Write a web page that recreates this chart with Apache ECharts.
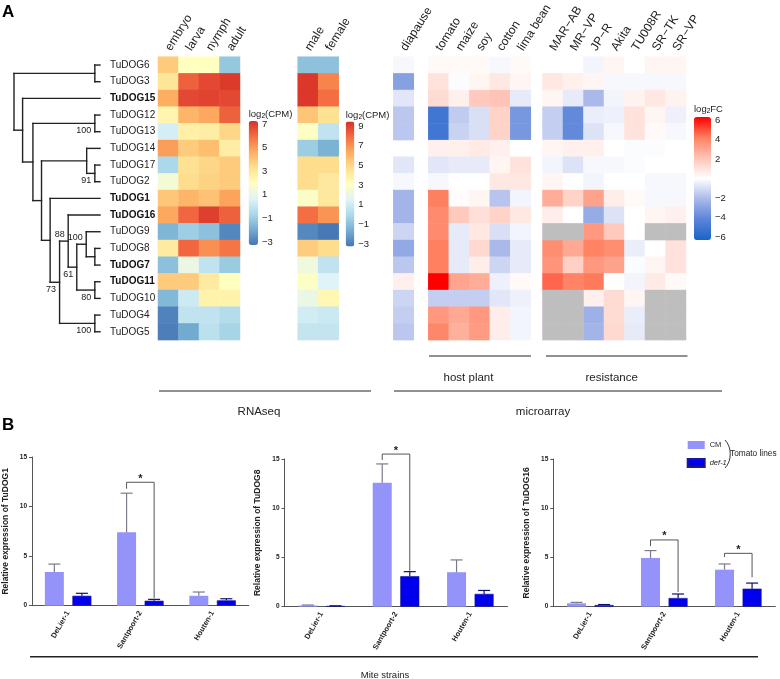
<!DOCTYPE html>
<html><head><meta charset="utf-8">
<script src="https://cdn.jsdelivr.net/npm/echarts@6/dist/echarts.min.js"></script>
<style>html,body{margin:0;padding:0;background:#fff}#c{width:780px;height:679px}</style>
</head><body><div id="c"></div>
<script>
// ---------------- DATA ----------------
const genes = ['TuDOG6','TuDOG3','TuDOG15','TuDOG12','TuDOG13','TuDOG14','TuDOG17','TuDOG2','TuDOG1','TuDOG16','TuDOG9','TuDOG8','TuDOG7','TuDOG11','TuDOG10','TuDOG4','TuDOG5'];
const boldGenes = ['TuDOG15','TuDOG1','TuDOG16','TuDOG7','TuDOG11'];
const devStages = ['embryo','larva','nymph','adult'];
const sexes = ['male','female'];
const diapauseCols = ['diapause'];
const hostPlants = ['tomato','maize','soy','cotton','lima bean'];
const resistStrains = ['MAR\u2212AB','MR\u2212VP','JP\u2212R','Akita','TU008R','SR\u2212TK','SR\u2212VP'];

// log2(CPM) per developmental stage (rows follow genes)
const rnaDev = [
 [3.8, 2.0, 2.0, -1.0],
 [3.0, 6.0, 6.5, 6.8],
 [4.5, 6.5, 6.6, 6.5],
 [2.4, 4.3, 4.6, 6.0],
 [0.5, 2.6, 2.7, 3.5],
 [4.8, 3.8, 4.1, 2.7],
 [-0.5, 3.2, 3.5, 3.8],
 [1.5, 3.3, 3.6, 3.8],
 [3.9, 4.3, 4.0, 4.7],
 [4.6, 5.9, 6.7, 6.0],
 [-1.5, -0.8, -1.2, -2.6],
 [2.8, 5.9, 5.1, 5.6],
 [-1.2, 1.2, 0.0, -0.9],
 [3.8, 3.8, 2.8, 2.0],
 [-1.4, 0.3, 2.5, 2.5],
 [-2.7, 0.0, 0.0, -0.3],
 [-2.8, -1.8, -0.1, -0.6]
];
// log2(CPM) male / female
const rnaSex = [
 [-0.8,-0.8],[8.8,7.0],[8.8,7.5],[5.3,4.4],[2.9,0.6],[-0.4,-1.3],[4.6,4.6],[4.6,4.1],
 [2.8,4.1],[7.5,6.6],[-2.5,-2.9],[5.1,4.6],[2.2,0.6],[2.9,1.5],[2.0,3.4],[1.1,0.9],[0.7,0.7]
];
// log2FC microarray
const diapauseFC = [[-0.2],[-2.9],[-0.7],[-1.6],[-1.6],[null],[-0.7],[-0.2],[-2.2],[-2.2],[-1.2],[-2.6],[-1.6],[0.5],[-1.2],[-1.4],[-1.6]];
const hostFC = [
 [0.2, 0.2, 0.2, -0.2, 0.2],
 [1.0, -0.1, 0.3, 0.8, 0.3],
 [1.2, 0.5, 1.8, 2.0, -0.6],
 [-4.8, -1.5, -0.9, 1.5, -3.3],
 [-4.8, -1.3, -0.9, 1.5, -3.3],
 [0.5, 0.5, 0.7, 0.5, 0.0],
 [-0.7, -0.6, -0.6, 0.3, 1.0],
 [-0.2, 0.0, 0.0, 0.8, 0.8],
 [4.0, 0.1, 0.3, -1.7, -0.3],
 [3.7, 1.8, 1.1, 1.5, 0.8],
 [3.7, -0.6, 0.8, -0.9, -0.3],
 [4.0, -0.6, 1.3, -2.0, -0.6],
 [4.0, -0.6, 0.6, -1.2, -0.6],
 [6.0, 2.9, 2.7, -0.4, 0.2],
 [-1.4, -1.4, -1.4, -0.7, -0.4],
 [3.3, 2.8, 3.3, 0.6, -0.3],
 [3.8, 2.6, 3.2, 0.6, -0.3]
];
const resistFC = [
 [0.0, 0.0, -0.3, 0.3, 0.0, 0.3, 0.3],
 [0.8, 0.5, 0.3, -0.2, -0.2, -0.2, -0.2],
 [0.3, -0.6, -2.0, -0.3, 0.4, 0.8, 0.4],
 [-1.4, -3.8, -0.5, -0.4, 1.0, 0.3, -0.4],
 [-1.4, -3.8, -0.8, -0.2, 1.0, 0.2, -0.2],
 [0.3, 0.5, 0.5, 0.0, -0.1, -0.1, 0.0],
 [-0.3, -0.8, -0.2, -0.2, -0.1, 0.0, 0.0],
 [0.3, 0.0, -0.3, 0.0, 0.0, -0.2, -0.2],
 [2.7, 1.5, 3.0, 0.6, 0.2, -0.2, -0.2],
 [0.6, 0.0, -2.5, -0.8, 0.0, 0.3, 0.5],
 [null, null, 3.3, 1.8, 0.0, null, null],
 [3.6, 2.8, 3.9, 3.6, -0.5, 0.0, 1.0],
 [3.4, 1.6, 3.3, 3.0, -0.1, 0.3, 1.0],
 [4.4, 3.9, 4.1, 0.0, -0.3, 0.7, 0.2],
 [null, null, 0.5, 1.2, 0.3, null, null],
 [null, null, -2.3, 1.2, -0.5, null, null],
 [null, null, -2.2, 1.3, -0.6, null, null]
];
// dendrogram: d = node depth (root 0, leaves 1), s = bootstrap, up = label above node
const tree = {d:0, c:[
  {d:0.94, c:['TuDOG6','TuDOG3']},
  {d:0.10, c:['TuDOG15',
    {d:0.22, c:[
      {d:0.94, s:'100', c:['TuDOG12','TuDOG13']},
      {d:0.32, c:[
        {d:0.845, c:['TuDOG14', {d:0.94, s:'91', c:['TuDOG17','TuDOG2']}]},
        {d:0.42, c:['TuDOG1',
          {d:0.53, s:'73', c:[
            {d:0.63, s:'88', up:1, c:['TuDOG16',
              {d:0.73, s:'61', c:[
                {d:0.84, s:'100', up:1, c:['TuDOG9', {d:0.94, c:['TuDOG8','TuDOG7']}]},
                {d:0.94, s:'80', c:['TuDOG11','TuDOG10']}
              ]}
            ]},
            {d:0.94, s:'100', c:['TuDOG4','TuDOG5']}
          ]}
        ]}
      ]}
    ]}
  ]}
]};
const legend1Ticks = [-3,-1,1,3,5,7];
const legend2Ticks = [-3,-1,1,3,5,7,9];
const legend3Ticks = [-6,-4,-2,2,4,6];

// Panel B
const strains = ['DeLier-1','Santpoort-2','Houten-1'];
const barNames = ['CM','def-1'];
const geneB = ['TuDOG1','TuDOG8','TuDOG16'];
const cmMean = [[3.4, 7.4, 1.0],[0.12, 12.6, 3.5],[0.34, 4.95, 3.76]];
const cmErr  = [[0.8, 3.95, 0.38],[0.05, 1.9, 1.25],[0.1, 0.75, 0.58]];
const defMean = [[1.0, 0.5, 0.54],[0.07, 3.1, 1.3],[0.17, 0.88, 1.83]];
const defErr  = [[0.25, 0.14, 0.16],[0.02, 0.46, 0.35],[0.05, 0.41, 0.57]];
// significance brackets: [category, bracket top, left leg end, right leg end]
const sigBrackets = [
  [[1, 12.45, 11.8, 0.75]],
  [[1, 15.5, 14.9, 3.65]],
  [[1, 6.78, 6.17, 1.5],[2, 5.42, 5.05, 2.98]]
];

// ---------------- STYLE / LAYOUT ----------------
const FONT = '"Liberation Sans", Arial, Helvetica, sans-serif';
const rdylbu = ['#4575b4','#74add1','#abd9e9','#e0f3f8','#ffffbf','#fee090','#fdae61','#f46d43','#d73027'];
const fcColors = ['#1a64c8','#5b84d8','#aab9ea','#ffffff','#ffc4b6','#ff8060','#ff0000'];
const NA_COLOR = '#bebebe';
const HT = 56.7, RH = 16.67, HH = RH * genes.length, CW = 20.5;
const BAR_W = 19, BAR_GAP = '45%', OFF = (19 + 19*0.45)/2;
const minus = v => String(v).replace('-', '\u2212');

function toCells(mat){ const o=[]; mat.forEach((row,r)=>row.forEach((v,c)=>{ if(v!==null) o.push([c,r,v]); })); return o; }
function naCells(mat){ const o=[]; mat.forEach((row,r)=>row.forEach((v,c)=>{ if(v===null) o.push([c,r,0]); })); return o; }

const segs = [], boots = [];
function lay(node){
  if (typeof node === 'string') return {y: genes.indexOf(node), d: 1};
  const kids = node.c.map(lay);
  const ys = kids.map(k=>k.y);
  segs.push([node.d, Math.min(...ys), node.d, Math.max(...ys)]);
  kids.forEach(k=>segs.push([node.d, k.y, k.d, k.y]));
  const y = (Math.min(...ys) + Math.max(...ys))/2;
  if (node.s) boots.push({d: node.d, y, s: node.s, up: !!node.up});
  return {y, d: node.d};
}
lay(tree);

// ---------------- OPTION ----------------
const grids = [
  {left:14, top:HT, width:86, height:HH},            //0 dendro
  {left:158, top:HT, width:CW*4, height:HH},         //1 dev
  {left:297.7, top:HT, width:CW*2, height:HH},       //2 sex
  {left:393.3, top:HT, width:CW, height:HH},         //3 diapause
  {left:428.3, top:HT, width:CW*5, height:HH},       //4 host
  {left:542.5, top:HT, width:CW*7, height:HH},       //5 resistance
  {left:248.7, top:124, width:9.3, height:118},      //6 legend1
  {left:345.7, top:126, width:8.6, height:118},      //7 legend2
  {left:694, top:120, width:17, height:117},         //8 legend3
  {left:26.7, top:457, width:222, height:148.7},     //9 bar1
  {left:284.5, top:459, width:223, height:147.7},    //10 bar2
  {left:553.3, top:459, width:222, height:147.7}     //11 bar3
];
const hidden = {axisLine:{show:false}, axisTick:{show:false}, axisLabel:{show:false}, splitLine:{show:false}};
const heatX = (gi, cats) => ({type:'category', gridIndex:gi, data:cats, position:'top', axisLine:{show:false}, axisTick:{show:false},
  axisLabel:{rotate:-58, align:'left', verticalAlign:'middle', fontSize:12, color:'#222', margin:7, fontFamily:FONT, interval:0}, splitLine:{show:false}});
const heatY = (gi, showLab) => ({type:'category', gridIndex:gi, data:genes, inverse:true, axisLine:{show:false}, axisTick:{show:false},
  splitLine:{show:false},
  axisLabel: showLab ? {show:true, align:'left', margin:48, fontSize:10, color:'#222', fontFamily:FONT, interval:0,
     formatter: v => boldGenes.includes(v) ? '{b|'+v+'}' : v, rich:{b:{fontWeight:'bold', fontSize:10, fontFamily:FONT, color:'#111'}}}
   : {show:false}});

const xAxes = [
  Object.assign({type:'value', gridIndex:0, min:0, max:1}, hidden),
  heatX(1, devStages), heatX(2, sexes), heatX(3, diapauseCols), heatX(4, hostPlants), heatX(5, resistStrains),
  Object.assign({type:'value', gridIndex:6, min:0, max:1}, hidden),
  Object.assign({type:'value', gridIndex:7, min:0, max:1}, hidden),
  Object.assign({type:'value', gridIndex:8, min:0, max:1}, hidden)
];
const legAxis = (gi, min, max, ticks, pos, lab) => ({type:'value', gridIndex:gi, min, max, position:pos,
  axisLine:{show:false}, splitLine:{show:false},
  axisTick:{show:true, inside:true, length: gi===8 ? 4 : 2.5, customValues:ticks, lineStyle:{color:'#fff', width:1.2}},
  axisLabel: lab ? {show:true, customValues:ticks, margin:4, fontSize:9.5, color:'#222', fontFamily:FONT, formatter:minus} : {show:false}});
const yAxes = [
  Object.assign({type:'value', gridIndex:0, min:-0.5, max:genes.length-0.5, inverse:true}, hidden),
  heatY(1,true), heatY(2,false), heatY(3,false), heatY(4,false), heatY(5,false),
  legAxis(6,-3,7,legend1Ticks,'right',true), legAxis(6,-3,7,legend1Ticks,'left',false),
  legAxis(7,-3,9,legend2Ticks,'right',true), legAxis(7,-3,9,legend2Ticks,'left',false),
  legAxis(8,-6,6,legend3Ticks,'right',true), legAxis(8,-6,6,legend3Ticks,'left',false)
];
// bar chart axes
for (let k=0;k<3;k++){
  xAxes.push({type:'category', gridIndex:9+k, data:strains, axisLine:{lineStyle:{color:'#555', width:1}}, axisTick:{show:false},
    axisLabel:{rotate:60, fontSize:7.5, fontWeight:'bold', color:'#222', margin:6, fontFamily:FONT, interval:0}});
  yAxes.push({type:'value', gridIndex:9+k, min:0, max:15, interval:5, name:'Relative expression of '+geneB[k],
    nameLocation:'middle', nameGap:22, nameTextStyle:{fontSize:8.5, fontWeight:'bold', color:'#222', fontFamily:FONT},
    axisLine:{show:true, lineStyle:{color:'#555', width:1}}, axisTick:{show:true, length:3, lineStyle:{color:'#555'}},
    axisLabel:{fontSize:6.5, fontWeight:'bold', color:'#222', margin:5, fontFamily:FONT}, splitLine:{show:false}});
}

const heat = (gi, data, extra) => Object.assign({type:'heatmap', xAxisIndex:gi, yAxisIndex:gi, data, emphasis:{disabled:true}, progressive:0}, extra||{});

const series = [
  {type:'custom', xAxisIndex:0, yAxisIndex:0, data:segs, silent:true,
   renderItem:(p,api)=>{ const a=api.coord([api.value(0),api.value(1)]), b=api.coord([api.value(2),api.value(3)]);
     return {type:'line', shape:{x1:a[0],y1:a[1],x2:b[0],y2:b[1]}, style:{stroke:'#222', lineWidth:1.4, lineCap:'square'}}; }},
  {type:'custom', xAxisIndex:0, yAxisIndex:0, data:boots.map(b=>[b.d,b.y]), silent:true,
   renderItem:(p,api)=>{ const b=boots[p.dataIndex]; const a=api.coord([b.d,b.y]);
     return {type:'text', x:a[0]-3.5, y:a[1]+(b.up?-7:7), style:{text:b.s, fontSize:9, fontFamily:FONT, fill:'#222', align:'right', verticalAlign:'middle'}}; }},
  heat(1, toCells(rnaDev)),
  heat(2, toCells(rnaSex)),
  heat(3, toCells(diapauseFC)),
  heat(4, toCells(hostFC)),
  heat(5, toCells(resistFC)),
  heat(5, naCells(resistFC), {itemStyle:{color:NA_COLOR}})
];

const errRender = (p, api) => {
  const cat=api.value(0), v=api.value(1), e=api.value(2), g=api.value(3);
  const base=api.coord([cat,v]), top=api.coord([cat,v+e]);
  const x = base[0] + (g===0 ? -OFF : OFF);
  const col = g===0 ? '#7a7a8c' : '#10106a';
  return {type:'group', children:[
    {type:'line', shape:{x1:x,y1:base[1],x2:x,y2:top[1]}, style:{stroke:col, lineWidth:1.2}},
    {type:'line', shape:{x1:x-6,y1:top[1],x2:x+6,y2:top[1]}, style:{stroke:col, lineWidth:1.2}}
  ]};
};
const sigRender = (p, api) => {
  const cat=api.value(0);
  const t=api.coord([cat,api.value(1)]), l=api.coord([cat,api.value(2)]), r=api.coord([cat,api.value(3)]);
  const xl=t[0]-OFF, xr=t[0]+OFF;
  return {type:'group', children:[
    {type:'polyline', shape:{points:[[xl,l[1]],[xl,t[1]],[xr,t[1]],[xr,r[1]]]}, style:{stroke:'#555', lineWidth:1, fill:null}},
    {type:'text', x:t[0], y:t[1]+2, style:{text:'*', fontSize:11, fontWeight:'bold', fontFamily:FONT, fill:'#222', align:'center', verticalAlign:'bottom'}}
  ]};
};
for (let k=0;k<3;k++){
  const xi = 9+k, yi = 12+k;
  series.push({type:'bar', name:'CM', xAxisIndex:xi, yAxisIndex:yi, data:cmMean[k], barWidth:BAR_W, barGap:BAR_GAP,
    itemStyle:{color:'#9393f9'}, emphasis:{disabled:true}});
  series.push({type:'bar', name:'def-1', xAxisIndex:xi, yAxisIndex:yi, data:defMean[k], barWidth:BAR_W, barGap:BAR_GAP,
    itemStyle:{color:'#0000ee', borderColor:'#1a1a90', borderWidth:0.6}, emphasis:{disabled:true}});
  const ed = [];
  strains.forEach((s,i)=>{ ed.push([i, cmMean[k][i], cmErr[k][i], 0]); ed.push([i, defMean[k][i], defErr[k][i], 1]); });
  series.push({type:'custom', xAxisIndex:xi, yAxisIndex:yi, data:ed, renderItem:errRender, silent:true, z:3});
  series.push({type:'custom', xAxisIndex:xi, yAxisIndex:yi, data:sigBrackets[k], renderItem:sigRender, silent:true, z:3, clip:false});
}

const vmBase = {type:'continuous', orient:'vertical', calculable:false, padding:0, hoverLink:false, text:null, showLabel:false};
const visualMap = [
  Object.assign({}, vmBase, {seriesIndex:2, min:-3, max:7, left:248.7, top:121, itemWidth:9.3, itemHeight:124, inRange:{color:rdylbu}}),
  Object.assign({}, vmBase, {seriesIndex:3, min:-3, max:9, left:345.7, top:121.5, itemWidth:8.6, itemHeight:125, inRange:{color:rdylbu}}),
  Object.assign({}, vmBase, {seriesIndex:[4,5,6], min:-6, max:6, left:694, top:117, itemWidth:17, itemHeight:123, inRange:{color:fcColors}})
];

const richLog = {n:{fontSize:9.5, fontFamily:FONT, fill:'#222', color:'#222'}, s:{fontSize:6.5, fontFamily:FONT, color:'#222', padding:[5,0,0,0]}};
const txt = (x,y,text,o) => Object.assign({type:'text', x, y, silent:true, style:Object.assign({text, fontFamily:FONT, fill:'#222', fontSize:11.5, align:'center', verticalAlign:'middle'}, o||{})});
const hline = (x1,x2,y,w) => ({type:'line', silent:true, shape:{x1,y1:y,x2,y2:y}, style:{stroke:'#222', lineWidth:w||1}});

const graphic = [
  txt(2, 12.5, 'A', {fontSize:17, fontWeight:'bold', align:'left', fill:'#000'}),
  txt(2, 425, 'B', {fontSize:17, fontWeight:'bold', align:'left', fill:'#000'}),
  {type:'text', x:248.7, y:114, silent:true, style:{text:'{n|log}{s|2}{n|(CPM)}', rich:richLog, align:'left', verticalAlign:'middle'}},
  {type:'text', x:345.7, y:115, silent:true, style:{text:'{n|log}{s|2}{n|(CPM)}', rich:richLog, align:'left', verticalAlign:'middle'}},
  {type:'text', x:694, y:109, silent:true, style:{text:'{n|log}{s|2}{n|FC}', rich:richLog, align:'left', verticalAlign:'middle'}},
  hline(429, 531, 356), hline(546, 687.5, 356), hline(159, 371, 391), hline(394, 722, 391),
  txt(468.5, 377.7, 'host plant'), txt(611.7, 377.7, 'resistance'), txt(259, 412, 'RNAseq'), txt(543, 412, 'microarray'),
  hline(30, 758, 656.7, 1.5),
  txt(385, 675.7, 'Mite strains', {fontSize:9.5}),
  {type:'bezierCurve', silent:true, shape:{x1:725, y1:440, cpx1:732, cpy1:447, cpx2:732, cpy2:461, x2:725, y2:468}, style:{stroke:'#222', lineWidth:0.9, fill:null}},
  txt(730, 454, 'Tomato lines', {fontSize:8.3, align:'left'})
];

const option = {
  animation:false,
  textStyle:{fontFamily:FONT},
  grid:grids, xAxis:xAxes, yAxis:yAxes, series, visualMap,
  legend:{data:barNames, orient:'vertical', left:686.7, top:441, itemWidth:17, itemHeight:8, itemGap:9, icon:'rect', selectedMode:false,
    padding:0, formatter: n => n==='def-1' ? '{i|def-1}' : '{r|'+n+'}',
    textStyle:{fontSize:7.5, color:'#222', fontFamily:FONT, rich:{i:{fontStyle:'italic', fontSize:7.5, fontFamily:FONT}, r:{fontSize:7.5, fontFamily:FONT}}}},
  graphic
};
const chart = echarts.init(document.getElementById('c'));
chart.setOption(option);
</script>
</body></html>
